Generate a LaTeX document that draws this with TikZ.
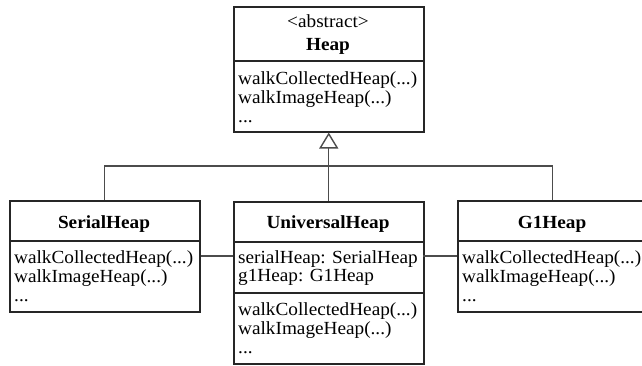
\documentclass[tikz,border=0pt]{standalone}
\usepackage{fontspec}
\setmainfont{Liberation Serif}[FakeStretch=1.04]
\usetikzlibrary{arrows.meta}
\begin{document}
\begin{tikzpicture}[x=1pt,y=-1pt,
  cls/.style={draw=black!85, line width=1.5pt, fill=white, rectangle, inner sep=0pt, anchor=north west},
  sep/.style={draw=black!85, line width=1.5pt},
  conn/.style={draw=black!70, line width=1.4pt},
  txt/.style={inner sep=0pt, anchor=base west, font=\fontsize{18.5}{19}\selectfont},
  ttl/.style={inner sep=0pt, anchor=base, font=\fontsize{18.5}{19}\selectfont\bfseries},
  stereo/.style={inner sep=0pt, anchor=base, font=\fontsize{18.5}{19}\selectfont}]
\useasboundingbox (0,0) rectangle (642,365);
% boxes
\node[cls, minimum width=190pt, minimum height=125pt] (heap) at (233,6) {};
\node[cls, minimum width=190pt, minimum height=111pt] (serial) at (9,200) {};
\node[cls, minimum width=190pt, minimum height=162pt] (univ) at (233,201) {};
\node[cls, minimum width=190pt, minimum height=111pt] (g1) at (457,200) {};
% separators
\draw[sep] (233,61) -- (423,61);
\draw[sep] (9,241) -- (199,241);
\draw[sep] (233,242) -- (423,242);
\draw[sep] (233,293) -- (423,293);
\draw[sep] (457,241) -- (647,241);
% Heap text
\node[stereo] (hst) at (328,27) {<abstract>};
\node[ttl] (hti) at (328,50) {Heap};
\node[txt] (hm1) at (238,84) {walkCollectedHeap(...)};
\node[txt] (hm2) at (238,103) {walkImageHeap(...)};
\node[txt] (hm3) at (238,122) {...};
% SerialHeap text
\node[ttl] (sti) at (104,228) {SerialHeap};
\node[txt] (sm1) at (14,263) {walkCollectedHeap(...)};
\node[txt] (sm2) at (14,282) {walkImageHeap(...)};
\node[txt] (sm3) at (14,301) {...};
% UniversalHeap text
\node[ttl] (uti) at (328,228) {UniversalHeap};
\node[txt] (uf1) at (238,263) {serialHeap: SerialHeap};
\node[txt] (uf2) at (238,281) {g1Heap: G1Heap};
\node[txt] (um1) at (238,315) {walkCollectedHeap(...)};
\node[txt] (um2) at (238,334) {walkImageHeap(...)};
\node[txt] (um3) at (238,353) {...};
% G1Heap text
\node[ttl] (gti) at (552,228) {G1Heap};
\node[txt] (gm1) at (462,263) {walkCollectedHeap(...)};
\node[txt] (gm2) at (462,282) {walkImageHeap(...)};
\node[txt] (gm3) at (462,301) {...};
% inheritance
\coordinate (junc) at (328,166);
\draw[conn] (serial.north) |- (junc) -| (g1.north);
\draw[conn, -{Triangle[open, length=16pt, width=19pt, line width=1.4pt]}] (univ.north) -- (heap.south);
% associations
\coordinate (ul) at (233,256);
\coordinate (ur) at (423,256);
\draw[conn] (serial.east |- ul) -- (ul);
\draw[conn] (ur) -- (g1.west |- ur);
\end{tikzpicture}
\end{document}
